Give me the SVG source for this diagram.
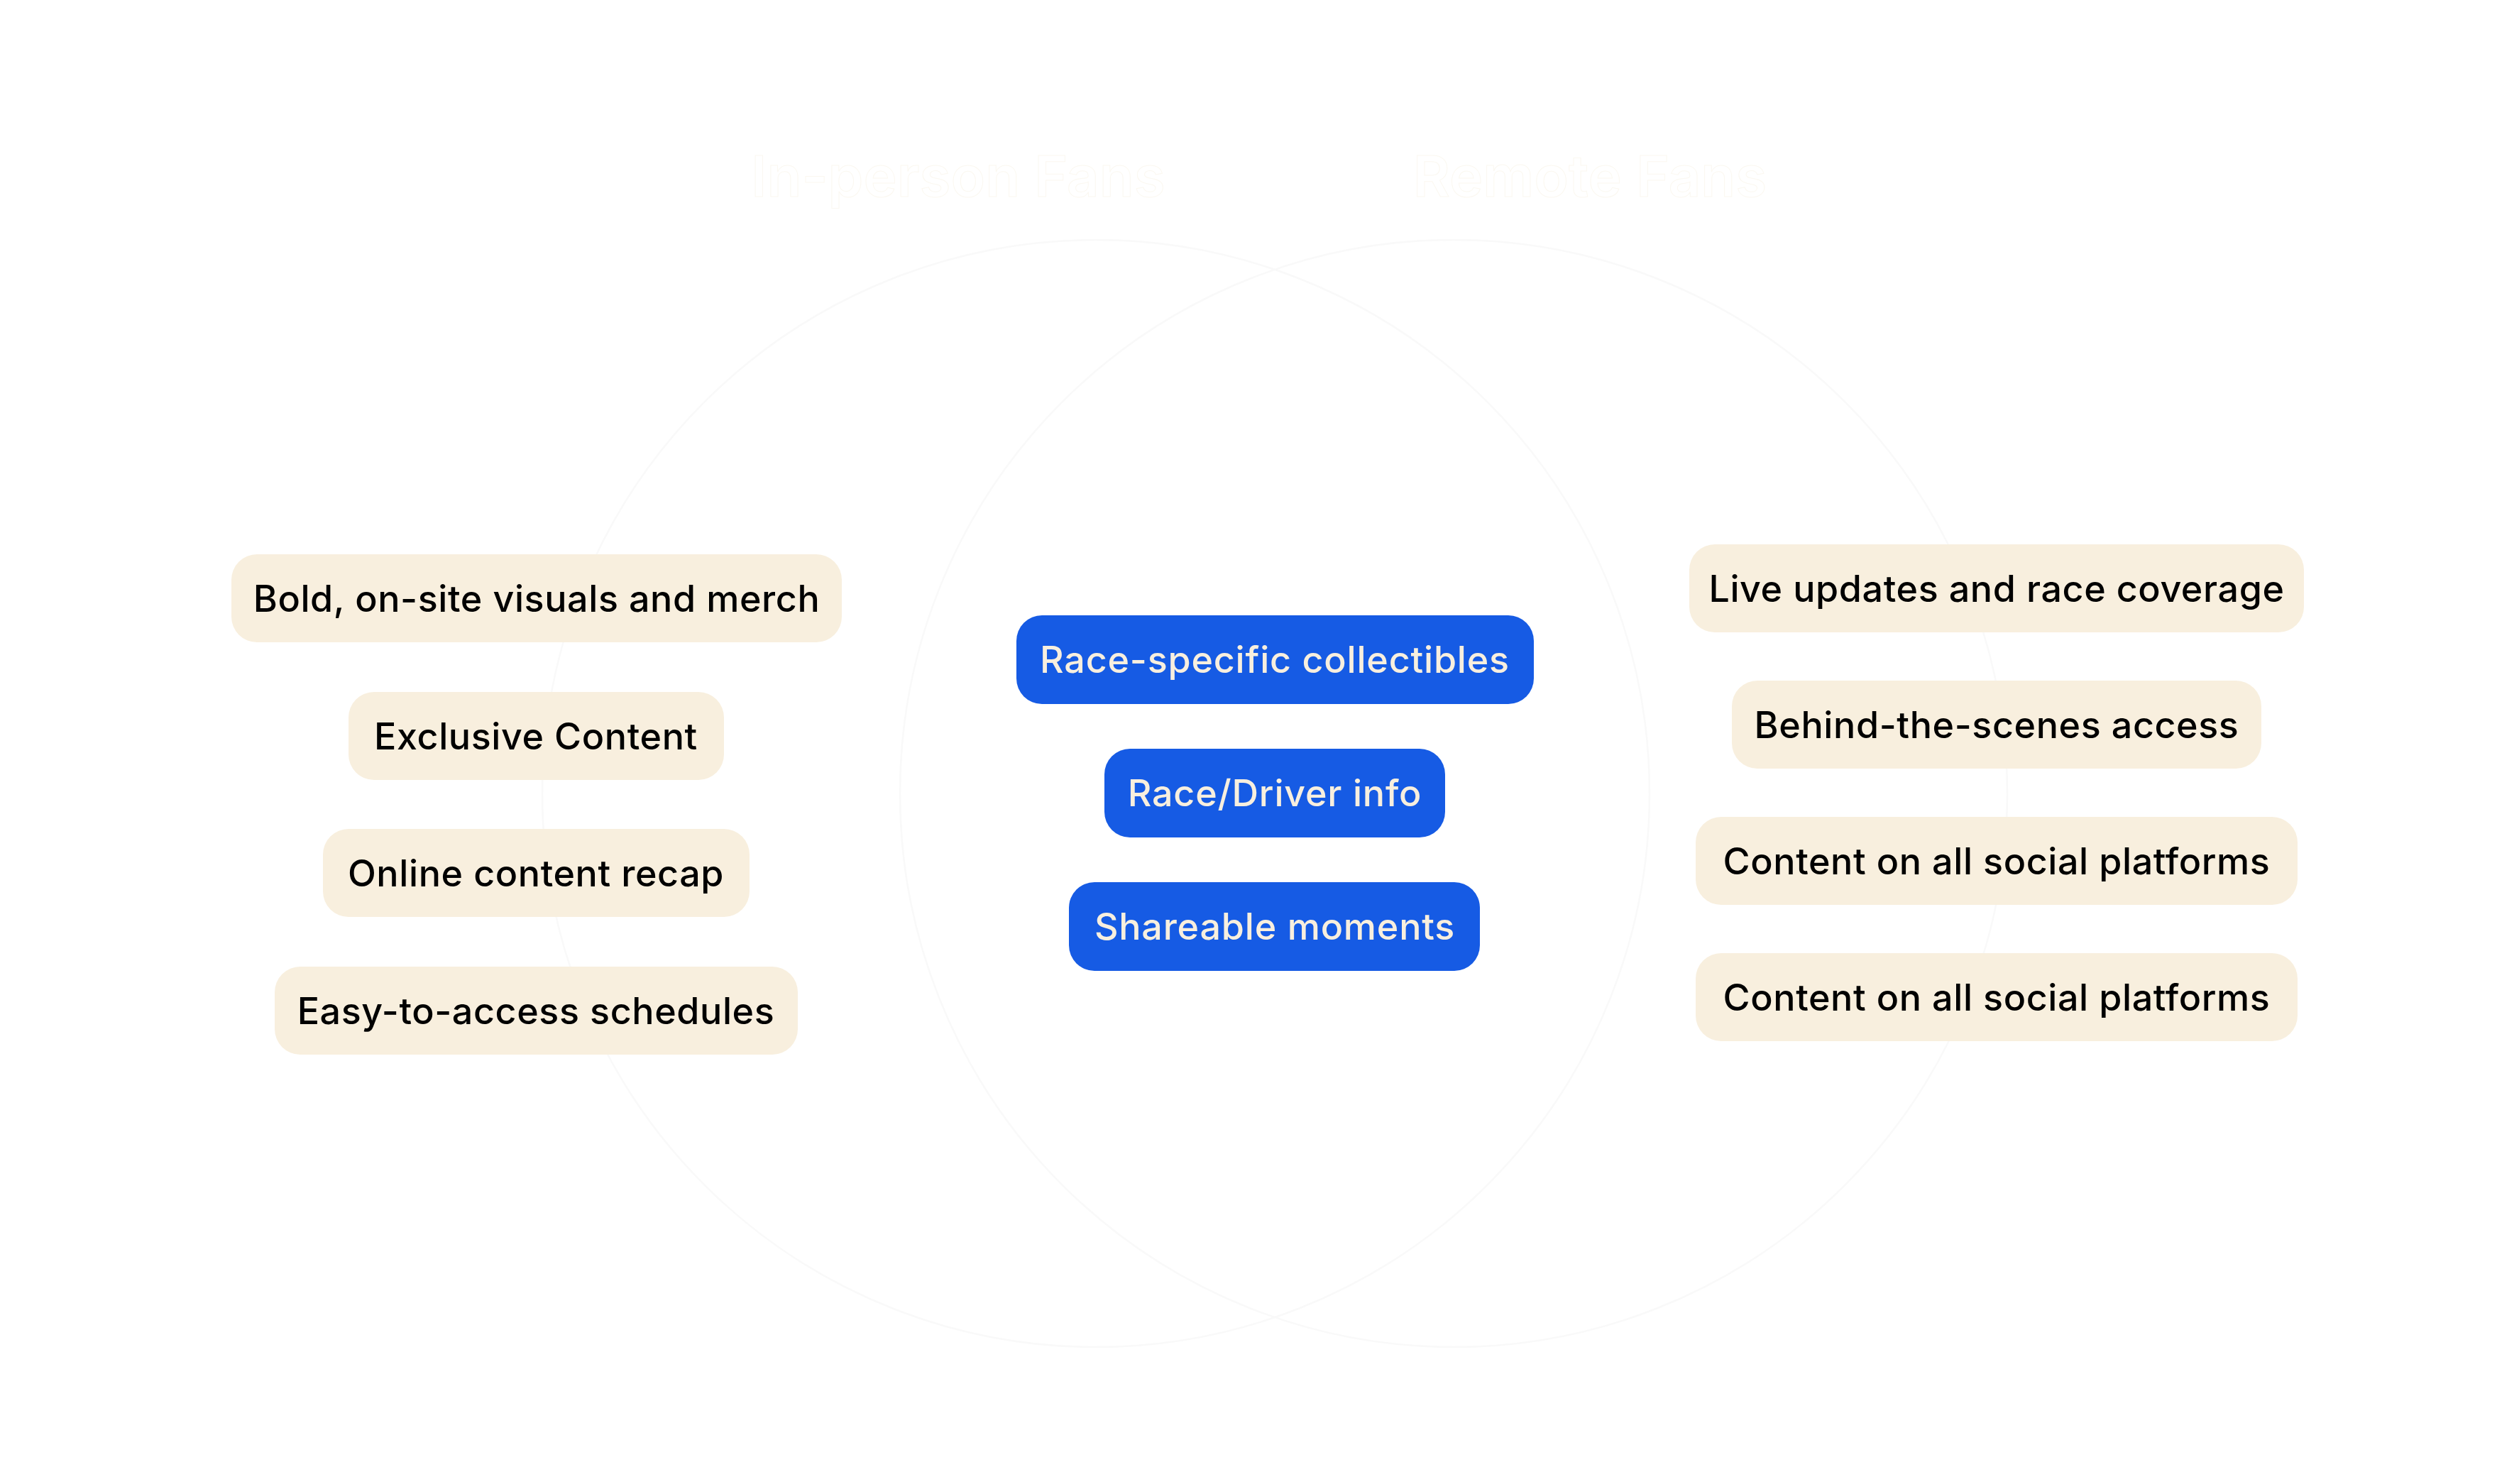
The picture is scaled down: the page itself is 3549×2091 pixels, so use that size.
<svg xmlns="http://www.w3.org/2000/svg" width="3549" height="2091" viewBox="0 0 3549 2091">
<style>
.bg{fill:#ffffff}
.ring{fill:none;stroke:#f9f9f9;stroke-width:2.5}
.title{font-family:Inter,"Liberation Sans",sans-serif;font-size:80px;font-weight:600;fill:#ffffff;stroke:#fbf8f1;stroke-width:1;text-anchor:middle}
.cream rect{fill:#f8efde}
.blue rect{fill:#165be4}
.cream text{font-family:Inter,"Liberation Sans",sans-serif;font-size:52px;font-weight:500;letter-spacing:0.6px;fill:#000000;text-anchor:middle}
.blue text{font-family:Inter,"Liberation Sans",sans-serif;font-size:52px;font-weight:500;letter-spacing:0.8px;fill:#f8efde;text-anchor:middle}
</style>
<rect class="bg" x="0" y="0" width="3549" height="2091"/>
<g id="venn">
<circle class="ring" cx="1544" cy="1118" r="780"/>
<circle class="ring" cx="2048" cy="1118" r="780"/>
<text class="title" x="1350" y="277">In-person Fans</text>
<text class="title" x="2240" y="277">Remote Fans</text>
</g>
<g id="connectors"></g>
<g id="n-bold" class="cream"><rect x="326" y="781" width="860" height="124" rx="36"/><text x="756" y="862">Bold, on-site visuals and merch</text></g>
<g id="n-exclusive" class="cream"><rect x="491" y="975" width="529" height="124" rx="36"/><text x="755" y="1056">Exclusive Content</text></g>
<g id="n-online" class="cream"><rect x="455" y="1168" width="601" height="124" rx="36"/><text x="755" y="1249">Online content recap</text></g>
<g id="n-easy" class="cream"><rect x="387" y="1362" width="737" height="124" rx="36"/><text x="755" y="1443">Easy-to-access schedules</text></g>
<g id="n-collectibles" class="blue"><rect x="1432" y="867" width="729" height="125" rx="36"/><text x="1796" y="948">Race-specific collectibles</text></g>
<g id="n-driver" class="blue"><rect x="1556" y="1055" width="480" height="125" rx="36"/><text x="1796" y="1136">Race/Driver info</text></g>
<g id="n-shareable" class="blue"><rect x="1506" y="1243" width="579" height="125" rx="36"/><text x="1796" y="1324">Shareable moments</text></g>
<g id="n-live" class="cream"><rect x="2380" y="767" width="866" height="124" rx="36"/><text x="2813" y="848">Live updates and race coverage</text></g>
<g id="n-behind" class="cream"><rect x="2440" y="959" width="746" height="124" rx="36"/><text x="2813" y="1040">Behind-the-scenes access</text></g>
<g id="n-social1" class="cream"><rect x="2389" y="1151" width="848" height="124" rx="36"/><text x="2813" y="1232">Content on all social platforms</text></g>
<g id="n-social2" class="cream"><rect x="2389" y="1343" width="848" height="124" rx="36"/><text x="2813" y="1424">Content on all social platforms</text></g>
</svg>
